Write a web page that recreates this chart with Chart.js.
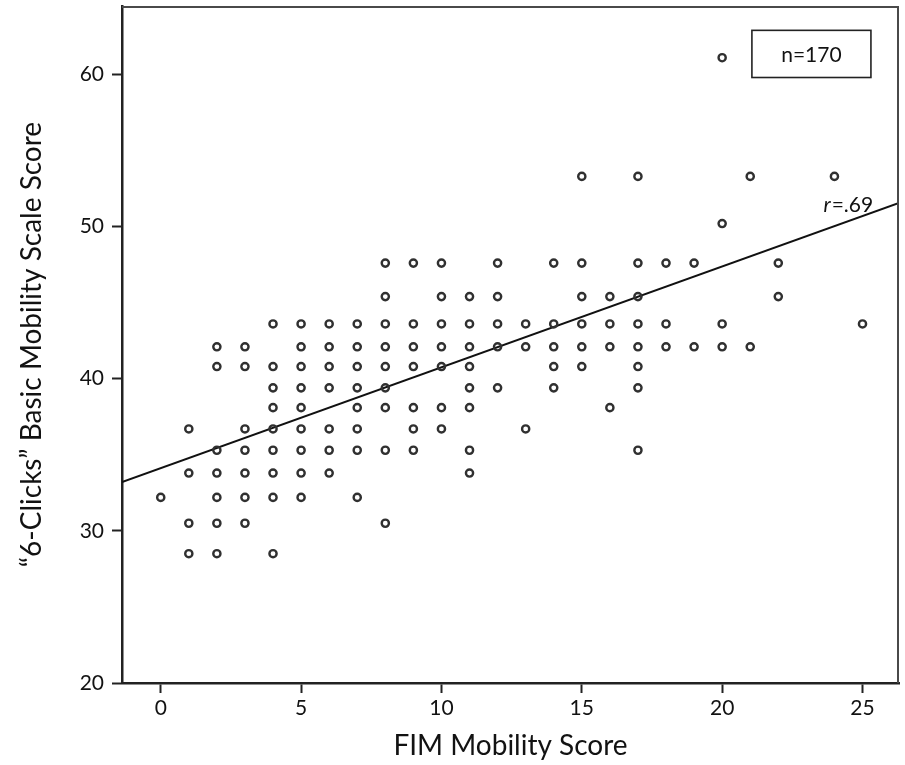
<!DOCTYPE html>
<html>
<head>
<meta charset="utf-8">
<script src="https://cdn.jsdelivr.net/npm/chart.js@4.4.1/dist/chart.umd.min.js"></script>
<style>
  html, body { margin: 0; padding: 0; background: #ffffff; }
  #wrap { width: 905px; height: 765px; }
</style>
</head>
<body>
<div id="wrap"><canvas id="chart" width="905" height="765"></canvas></div>
<script>
// "6-Clicks" score levels (rows) and the FIM mobility scores observed at each level
const clicksLevels = [61.1, 53.3, 50.2, 47.6, 45.4, 43.6, 42.1, 40.8, 39.4, 38.1, 36.7, 35.3, 33.8, 32.2, 30.5, 28.5];
const fimAtLevel = [
  [20],
  [15, 17, 21, 24],
  [20],
  [8, 9, 10, 12, 14, 15, 17, 18, 19, 22],
  [8, 10, 11, 12, 15, 16, 17, 22],
  [4, 5, 6, 7, 8, 9, 10, 11, 12, 13, 14, 15, 16, 17, 18, 20, 25],
  [2, 3, 5, 6, 7, 8, 9, 10, 11, 12, 13, 14, 15, 16, 17, 18, 19, 20, 21],
  [2, 3, 4, 5, 6, 7, 8, 9, 10, 11, 14, 15, 17],
  [4, 5, 6, 7, 8, 11, 12, 14, 17],
  [4, 5, 7, 8, 9, 10, 11, 16],
  [1, 3, 4, 5, 6, 7, 9, 10, 13],
  [2, 3, 4, 5, 6, 7, 8, 9, 11, 17],
  [1, 2, 3, 4, 5, 6, 11],
  [0, 2, 3, 4, 5, 7],
  [1, 2, 3, 8],
  [1, 2, 4]
];

// Fitted regression line end points
const fitX = [-1.38, 26.3];
const fitY = [33.2, 51.55];

// Annotation texts
const sampleLabel = 'n=170';
const corrLabel = '.69';

// Tick values
const xTicks = [0, 5, 10, 15, 20, 25];
const yTicks = [20, 30, 40, 50, 60];

const points = [];
clicksLevels.forEach((y, i) => fimAtLevel[i].forEach(x => points.push({ x, y })));
const fitLine = fitX.map((x, i) => ({ x, y: fitY[i] }));

const FONT = 'Lato, "Open Sans", sans-serif';
const INK = '#121212';

// Frame on the top and right, plus the n box and r label
const annotations = {
  id: 'annotations',
  afterDatasetsDraw(chart) {
    const { ctx, chartArea: a, scales: { x, y } } = chart;
    ctx.save();
    // top/right frame
    ctx.strokeStyle = '#4a4a4a';
    ctx.lineWidth = 2;
    ctx.beginPath();
    ctx.moveTo(a.left, a.top + 1);
    ctx.lineTo(a.right - 1, a.top + 1);
    ctx.lineTo(a.right - 1, a.bottom);
    ctx.stroke();

    // sample size box
    const bx0 = x.getPixelForValue(21.06), bx1 = x.getPixelForValue(25.3);
    const by0 = y.getPixelForValue(62.9), by1 = y.getPixelForValue(59.8);
    ctx.lineWidth = 1.6;
    ctx.strokeStyle = '#222';
    ctx.strokeRect(bx0, by0, bx1 - bx0, by1 - by0);
    ctx.fillStyle = INK;
    ctx.font = '21px ' + FONT;
    ctx.textAlign = 'center';
    ctx.textBaseline = 'middle';
    ctx.fillText(sampleLabel, (bx0 + bx1) / 2, (by0 + by1) / 2 + 1);

    // correlation label
    const rx = x.getPixelForValue(25.38), ry = y.getPixelForValue(50.95);
    ctx.textBaseline = 'alphabetic';
    ctx.textAlign = 'right';
    ctx.font = '21px ' + FONT;
    const restW = ctx.measureText('=' + corrLabel).width;
    ctx.fillText('=' + corrLabel, rx, ry);
    ctx.font = 'italic 21px ' + FONT;
    ctx.fillText('r', rx - restW - 1, ry);
    ctx.restore();
  }
};

new Chart(document.getElementById('chart'), {
  type: 'scatter',
  data: {
    datasets: [
      {
        data: points,
        pointRadius: 3.6,
        pointBorderWidth: 2.4,
        pointBorderColor: '#303030',
        pointBackgroundColor: 'rgba(255,255,255,0)',
        pointHoverRadius: 3.6
      },
      {
        type: 'line',
        data: fitLine,
        borderColor: '#111',
        borderWidth: 2,
        pointRadius: 0,
        fill: false
      }
    ]
  },
  options: {
    responsive: false,
    animation: false,
    events: [],
    layout: { padding: { top: 4, right: 6, left: 0, bottom: 0 } },
    plugins: { legend: { display: false }, tooltip: { enabled: false } },
    scales: {
      x: {
        type: 'linear',
        min: fitX[0],
        max: fitX[1],
        afterBuildTicks: s => { s.ticks = xTicks.map(v => ({ value: v })); },
        afterFit: s => { s.height = 82; s.paddingLeft = 0; s.paddingRight = 0; },
        ticks: { font: { family: FONT, size: 21 }, color: INK, padding: 3 },
        grid: { drawOnChartArea: false, drawTicks: true, tickLength: 10, tickWidth: 2, color: '#222' },
        border: { display: true, color: '#222', width: 2.5 },
        title: {
          display: true,
          text: 'FIM Mobility Score',
          color: INK,
          font: { family: FONT, size: 28, lineHeight: 1.2 },
          padding: { top: 0, bottom: 2 }
        }
      },
      y: {
        type: 'linear',
        min: 20,
        max: 64.5,
        afterBuildTicks: s => { s.ticks = yTicks.map(v => ({ value: v })); },
        afterFit: s => { s.width = 122; s.paddingTop = 0; s.paddingBottom = 0; },
        ticks: { font: { family: FONT, size: 21 }, color: INK, padding: 8 },
        grid: { drawOnChartArea: false, drawTicks: true, tickLength: 10, tickWidth: 2, color: '#222' },
        border: { display: true, color: '#222', width: 2.5 },
        title: {
          display: true,
          text: '\u201C6-Clicks\u201D Basic Mobility Scale Score',
          color: INK,
          font: { family: FONT, size: 28, lineHeight: 1.2 },
          padding: { top: 15, bottom: 0 }
        }
      }
    }
  },
  plugins: [annotations]
});
</script>
</body>
</html>
